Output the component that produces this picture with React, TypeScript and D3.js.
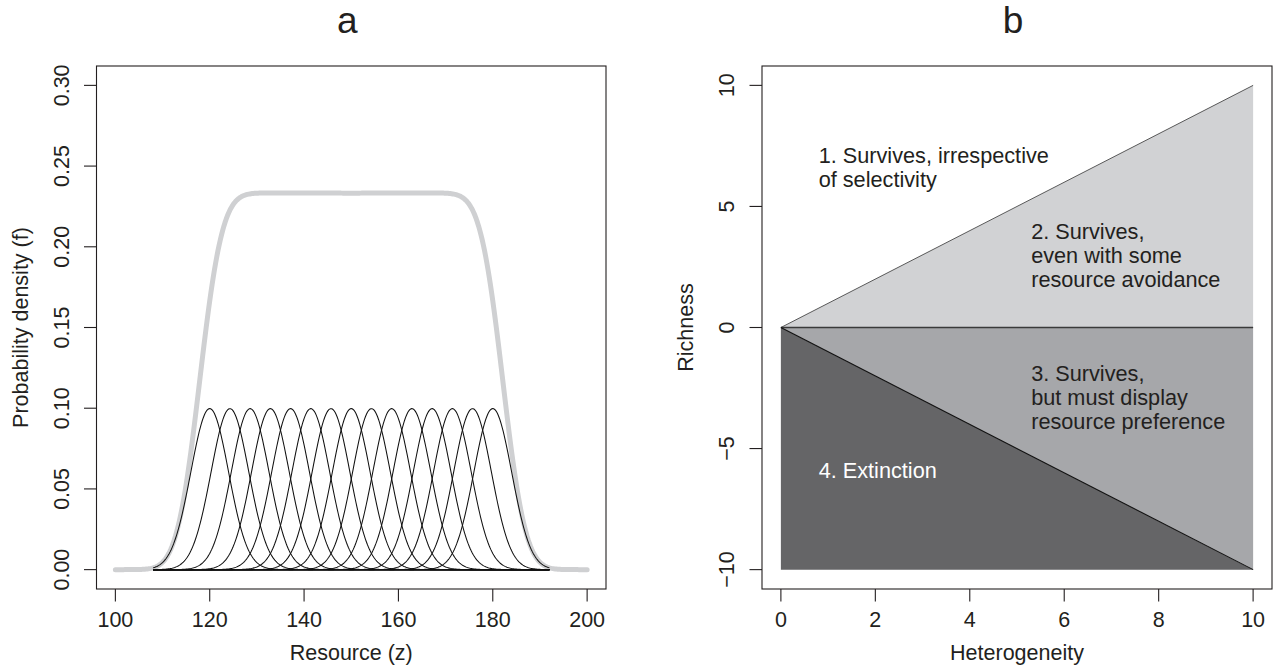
import React from 'react';
import * as d3 from 'd3';

// panel a: resource density curves
const resourceTicks = [100, 120, 140, 160, 180, 200];
const densityTicks = [0, 0.05, 0.1, 0.15, 0.2, 0.25, 0.3];
const nicheCentres = [120, 124.29, 128.57, 132.86, 137.14, 141.43, 145.71, 150, 154.29, 158.57, 162.86, 167.14, 171.43, 175.71, 180];
const nicheSd = 4;
const nicheSpan = [108, 192]; // range over which every niche curve is drawn
const resourceRange = [100, 200];

// panel b: richness regions
const heteroTicks = [0, 2, 4, 6, 8, 10];
const richnessTicks = [-10, -5, 0, 5, 10];
const upperRegion: [number, number][] = [[0, 0], [10, 10], [10, 0]];
const middleRegion: [number, number][] = [[0, 0], [10, 0], [10, -10]];
const lowerRegion: [number, number][] = [[0, 0], [10, -10], [0, -10]];
const regionLabels = [
  ['1. Survives, irrespective', 'of selectivity'],
  ['2. Survives,', 'even with some', 'resource avoidance'],
  ['3. Survives,', 'but must display', 'resource preference'],
  ['4. Extinction'],
];
const labelAnchors: [number, number][] = [[0.8, 6.6], [5.3, 3.0], [5.3, -2.9], [0.8, -5.9]];

const FONT = '"Liberation Sans", Arial, Helvetica, sans-serif';
const INK = '#231f20';
const TICK = 12.5;
const AXIS_FS = 21.5;

/* pad: R style 4% axis extension */
function pad([lo, hi]: number[]) {
  const s = (hi - lo) * 0.04;
  return [lo - s, hi + s];
}

function dnorm(x: number, m: number, s: number) {
  return Math.exp(-0.5 * ((x - m) / s) ** 2) / (s * Math.sqrt(2 * Math.PI));
}

/* Frame: box, ticks, labels and titles shared by both panels */
function Frame({ box, x, y, xTicks, yTicks, xFmt, yFmt, xTitle, yTitle, title }: any) {
  return (
    <g fill={INK} style={{ fontFamily: FONT }}>
      <rect x={box.x0} y={box.y0} width={box.x1 - box.x0} height={box.y1 - box.y0} fill='none' stroke={INK} strokeWidth={1.1} />
      {xTicks.map((t: number) => (
        <g key={`x${t}`}>
          <line x1={x(t)} x2={x(t)} y1={box.y1} y2={box.y1 + TICK} stroke={INK} strokeWidth={1.1} />
          <text x={x(t)} y={box.y1 + 38} textAnchor='middle' fontSize={AXIS_FS}>{xFmt(t)}</text>
        </g>
      ))}
      {yTicks.map((t: number) => (
        <g key={`y${t}`}>
          <line x1={box.x0 - TICK} x2={box.x0} y1={y(t)} y2={y(t)} stroke={INK} strokeWidth={1.1} />
          <text transform={`translate(${box.x0 - 28},${y(t)}) rotate(-90)`} textAnchor='middle' fontSize={AXIS_FS}>{yFmt(t)}</text>
        </g>
      ))}
      <text x={(box.x0 + box.x1) / 2} y={box.y1 + 71} textAnchor='middle' fontSize={AXIS_FS}>{xTitle}</text>
      <text transform={`translate(${box.x0 - 69},${(box.y0 + box.y1) / 2}) rotate(-90)`} textAnchor='middle' fontSize={AXIS_FS}>{yTitle}</text>
      <text x={(box.x0 + box.x1) / 2 - 4} y={33} textAnchor='middle' fontSize={37}>{title}</text>
    </g>
  );
}

function PanelA() {
  const box = { x0: 96.5, x1: 606, y0: 66, y1: 589 };
  const x = d3.scaleLinear().domain(pad(resourceRange)).range([box.x0, box.x1]);
  const y = d3.scaleLinear().domain(pad([0, 0.3])).range([box.y1, box.y0]);
  const line = d3.line<[number, number]>().x(d => x(d[0])).y(d => y(d[1]));

  const envelope: [number, number][] = d3.range(resourceRange[0], resourceRange[1] + 0.001, 0.25)
    .map(z => [z, d3.sum(nicheCentres, c => dnorm(z, c, nicheSd))]);
  const curves = nicheCentres.map(c =>
    d3.range(nicheSpan[0], nicheSpan[1] + 0.001, 0.2).map(z => [z, dnorm(z, c, nicheSd)] as [number, number]));

  return (
    <g>
      <path d={line(envelope) || ''} fill='none' stroke='#cfd0d2' strokeWidth={5} strokeLinecap='round' strokeLinejoin='round' />
      {curves.map((c, i) => (
        <path key={i} d={line(c) || ''} fill='none' stroke='#111' strokeWidth={1.05} />
      ))}
      <Frame box={box} x={x} y={y} xTicks={resourceTicks} yTicks={densityTicks}
        xFmt={(t: number) => String(t)} yFmt={(t: number) => t.toFixed(2)}
        xTitle='Resource (z)' yTitle='Probability density (f)' title='a' />
    </g>
  );
}

function PanelB() {
  const box = { x0: 762, x1: 1272, y0: 66, y1: 589 };
  const x = d3.scaleLinear().domain(pad([0, 10])).range([box.x0, box.x1]);
  const y = d3.scaleLinear().domain(pad([-10, 10])).range([box.y1, box.y0]);
  const poly = (pts: [number, number][]) => 'M' + pts.map(p => `${x(p[0])},${y(p[1])}`).join('L') + 'Z';

  return (
    <g>
      <path d={poly(upperRegion)} fill='#d1d2d4' />
      <path d={poly(middleRegion)} fill='#a6a7aa' />
      <path d={poly(lowerRegion)} fill='#656567' />
      <line x1={x(0)} y1={y(0)} x2={x(10)} y2={y(10)} stroke='#333' strokeWidth={0.8} />
      <line x1={x(0)} y1={y(0)} x2={x(10)} y2={y(0)} stroke='#3a3a3a' strokeWidth={1.4} />
      <line x1={x(0)} y1={y(0)} x2={x(10)} y2={y(-10)} stroke='#111' strokeWidth={1.1} />
      {regionLabels.map((lines, i) => {
        const [ax, ay] = labelAnchors[i];
        const top = y(ay) - (lines.length - 1) * 12 + 7.7;
        return (
          <text key={i} x={x(ax)} y={top} fontSize={21.7} style={{ fontFamily: FONT }}
            fill={i === 3 ? '#ffffff' : INK}>
            {lines.map((l, j) => <tspan key={j} x={x(ax)} y={top + j * 24}>{l}</tspan>)}
          </text>
        );
      })}
      <Frame box={box} x={x} y={y} xTicks={heteroTicks} yTicks={richnessTicks}
        xFmt={(t: number) => String(t)} yFmt={(t: number) => (t < 0 ? '\u2212' + Math.abs(t) : String(t))}
        xTitle='Heterogeneity' yTitle='Richness' title='b' />
    </g>
  );
}

export default function App() {
  return (
    <svg width={1273} height={665} style={{ position: 'absolute', left: 0, top: 0, display: 'block', background: '#fff' }}>
      <rect width={1273} height={665} fill='#fff' />
      <PanelA />
      <PanelB />
    </svg>
  );
}
